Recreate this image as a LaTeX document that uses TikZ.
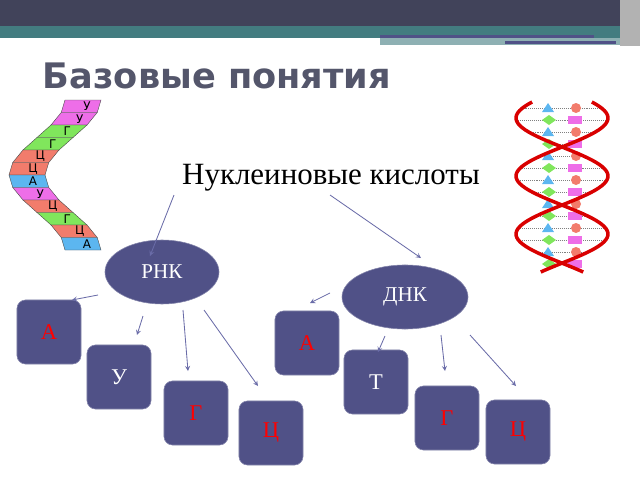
\documentclass[tikz,border=0pt]{standalone}
\usepackage{fontspec}
\setmainfont{Liberation Serif}
\newfontfamily\titlefont{DejaVu Sans}
\usepackage{tikz}
\usetikzlibrary{shapes,arrows,positioning}
\definecolor{bardark}{HTML}{41435A}
\definecolor{barteal}{HTML}{437C80}
\definecolor{boxfill}{HTML}{505187}
\definecolor{arrowcol}{HTML}{6A6CA8}
\definecolor{uband}{HTML}{EE6EE8}
\definecolor{gband}{HTML}{80E65C}
\definecolor{cband}{HTML}{F27C6C}
\definecolor{aband}{HTML}{5CB6F0}
\tikzstyle{arrow} = [->,>=stealth,draw=arrowcol,semithick]
\tikzstyle{letterbox} = [draw=boxfill!70!white, fill=boxfill, rounded corners=6pt, minimum width=1.6cm, minimum height=1.6cm, font=\fontsize{16}{18}\selectfont]
\tikzstyle{acid} = [ellipse, draw=boxfill!70!white, fill=boxfill, text=white, font=\fontsize{15}{17}\selectfont]

\begin{document}
\begin{tikzpicture}[x=0.025cm, y=-0.025cm]
    \useasboundingbox (0,0) rectangle (640,480);

    % Header bars
    \fill[bardark] (0,0) rectangle (640,26);
    \fill[barteal] (0,26) rectangle (620,38);
    \fill[barteal!60!white] (380,38) rectangle (620,45);
    \fill[boxfill] (380,35) rectangle (594,38);
    \fill[boxfill] (505,41) rectangle (616,44);
    \fill[gray!60] (620,0) rectangle (640,46);

    % Title and top text
    \node (title) [anchor=base west, text=bardark!90!white, font=\titlefont\bfseries\fontsize{25}{28}\selectfont] at (38,88) {Базовые понятия};
    \node (acids) [font=\fontsize{22}{24}\selectfont] at (331,178) {Нуклеиновые кислоты};

    % RNA strand
    \foreach \C [count=\i from 0] in {uband,uband,gband,gband,cband,cband,aband,uband,cband,gband,cband,aband} {
        \pgfmathsetmacro\ya{100+12.5*\i}
        \pgfmathsetmacro\yb{\ya+12.5}
        \pgfmathsetmacro\ca{55+28*cos((\ya-100)*2.4)}
        \pgfmathsetmacro\cb{55+28*cos((\yb-100)*2.4)}
        \filldraw[fill=\C, draw=black!70, line width=0.3pt] (\ca-18,\ya) -- (\ca+18,\ya) -- (\cb+18,\yb) -- (\cb-18,\yb) -- cycle;
    }
    \foreach \L [count=\i from 0] in {У,У,Г,Г,Ц,Ц,А,У,Ц,Г,Ц,А} {
        \pgfmathsetmacro\ym{106.25+12.5*\i}
        \pgfmathsetmacro\cm{60+28*cos((\ym-100)*2.4)}
        \node[font=\titlefont\fontsize{8.5}{9}\selectfont, inner sep=0pt] at (\cm,\ym) {\L};
    }

    % DNA helix
    \foreach \k in {0,...,13} {
        \pgfmathsetmacro\yr{108+12*\k}
        \pgfmathsetmacro\xl{562+46*sin((\yr-147)*3.1)}
        \pgfmathsetmacro\xr{562-46*sin((\yr-147)*3.1)}
        \draw[gray, densely dotted] (\xl,\yr) -- (\xr,\yr);
        \pgfmathsetmacro\xm{(\xl+\xr)/2}
        \ifodd\k
            \fill[uband] (\xm+6,\yr-4) rectangle (\xm+20,\yr+4);
            \fill[gband] (\xm-20,\yr) -- (\xm-13,\yr-5) -- (\xm-6,\yr) -- (\xm-13,\yr+5) -- cycle;
        \else
            \fill[cband] (\xm+14,\yr) circle (5);
            \fill[aband] (\xm-20,\yr+4) -- (\xm-14,\yr-5) -- (\xm-8,\yr+4) -- cycle;
        \fi
    }
    \draw[red!85!black, line width=2.5pt, domain=102:272, samples=80] plot ({562+46*sin((\x-147)*3.1)},\x);
    \draw[red!85!black, line width=2.5pt, domain=102:272, samples=80] plot ({562-46*sin((\x-147)*3.1)},\x);

    % Acids
    \node (rna) [acid, minimum width=2.85cm, minimum height=1.6cm] at (162,272) {РНК};
    \node (dna) [acid, minimum width=3.15cm, minimum height=1.6cm] at (405,297) {ДНК};

    % Bases
    \node (RA) [letterbox, text=red] at (49,332) {А};
    \node (RU) [letterbox, text=white] at (119,377) {У};
    \node (RG) [letterbox, text=red] at (196,413) {Г};
    \node (RC) [letterbox, text=red] at (271,433) {Ц};
    \node (DA) [letterbox, text=red] at (307,343) {А};
    \node (DT) [letterbox, text=white] at (376,382) {Т};
    \node (DG) [letterbox, text=red] at (447,418) {Г};
    \node (DC) [letterbox, text=red] at (518,432) {Ц};

    % Arrow ends
    \foreach \N/\X/\Y in {s1/174/195, e1/150/256, s2/330/195, e2/421/258,
        s3/98/295, e3/72/300, s4/143/316, e4/137/335, s5/183/310, e5/188/371, s6/204/310, e6/258/386,
        s7/330/293, e7/310/303, s8/385/336, e8/378/352, s9/441/335, e9/445/371, s10/470/335, e10/516/386} {
        \coordinate (\N) at (\X,\Y);
    }
    \foreach \X/\Y in {s1/e1, s2/e2, s3/e3, s4/e4, s5/e5, s6/e6, s7/e7, s8/e8, s9/e9, s10/e10} {
        \draw[arrow] (\X) -- (\Y);
    }

\end{tikzpicture}
\end{document}
